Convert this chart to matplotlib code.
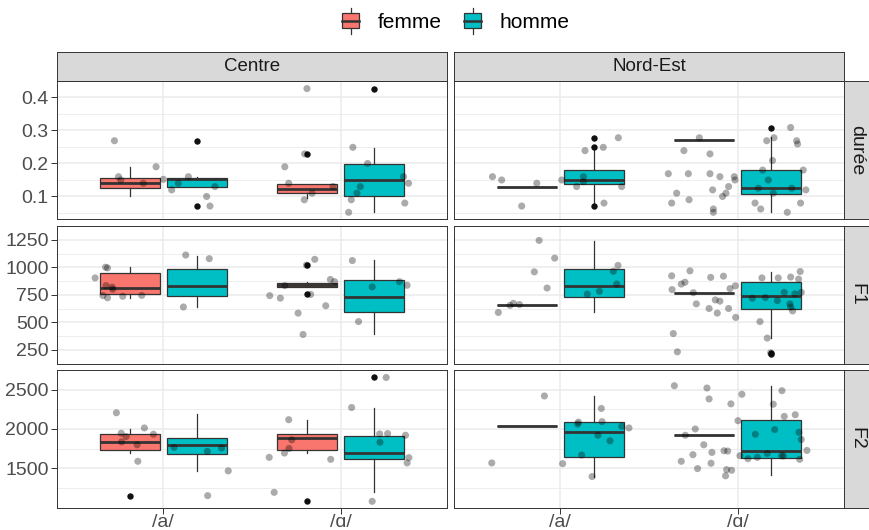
import matplotlib
matplotlib.use("Agg")
import matplotlib.pyplot as plt
from matplotlib.patches import Patch, Rectangle
from matplotlib.lines import Line2D
from matplotlib.legend_handler import HandlerBase

plt.rcParams['font.family'] = ['Liberation Sans', 'DejaVu Sans']

# Données
regions = ["Centre", "Nord-Est"]
measures = ["durée", "F1", "F2"]
vowels = ["/a/", "/ɑ/"]
genders = ["femme", "homme"]

# boîtes : (whislo, q1, med, q3, whishi), ordre :
# Centre /a/ f, Centre /a/ h, Centre /ɑ/ f, Centre /ɑ/ h, NE /a/ f, NE /a/ h, NE /ɑ/ f, NE /ɑ/ h
duree_box = [(0.10, 0.125, 0.14, 0.155, 0.19), (0.13, 0.13, 0.152, 0.155, 0.16),
             (0.095, 0.11, 0.122, 0.137, 0.137), (0.052, 0.10, 0.15, 0.197, 0.247),
             (0.13, 0.13, 0.13, 0.13, 0.13), (0.08, 0.138, 0.15, 0.18, 0.24),
             (0.27, 0.27, 0.27, 0.27, 0.27), (0.052, 0.107, 0.125, 0.18, 0.28)]
duree_fliers = [[], [0.071, 0.269], [0.229], [0.427], [], [0.071, 0.249, 0.278], [], [0.309]]

f1_box = [(722, 755, 814, 950, 1000), (639, 736, 833, 986, 1103),
          (820, 825, 839, 861, 870), (389, 597, 731, 880, 1069),
          (653, 653, 653, 653, 653), (592, 731, 831, 983, 1242),
          (769, 769, 769, 769, 769), (361, 625, 736, 869, 958)]
f1_fliers = [[], [], [753, 1019], [], [], [], [], [222, 212]]

f2_box = [(1700, 1727, 1836, 1933, 2004), (1467, 1677, 1794, 1891, 2193),
          (1694, 1736, 1891, 1937, 2109), (1198, 1618, 1694, 1908, 2265),
          (2034, 2034, 2034, 2034, 2034), (1395, 1639, 1962, 2088, 2416),
          (1920, 1920, 1920, 1920, 1920), (1416, 1635, 1719, 2118, 2542)]
f2_fliers = [[1152], [], [1080], [2655], [], [], [], []]

# points (position sur l'axe discret avec jitter, valeur)
duree_centre_x = [0.724, 0.747, 0.76, 0.887, 0.959, 1.0, 1.047, 1.084, 1.141, 1.244, 1.263, 1.291,
                  1.685, 1.707, 1.795, 1.81, 1.797, 1.839, 1.957, 2.069, 2.152, 2.111, 2.092, 2.06,
                  2.045, 2.355, 2.383, 2.362]
duree_centre_y = [0.269, 0.16, 0.15, 0.14, 0.19, 0.152, 0.12, 0.14, 0.16, 0.10, 0.071, 0.13,
                  0.19, 0.14, 0.09, 0.427, 0.229, 0.11, 0.13, 0.249, 0.20, 0.13, 0.11, 0.09,
                  0.052, 0.16, 0.14, 0.08]
duree_ne_x = [0.617, 0.669, 0.782, 0.867, 1.008, 1.092, 1.13, 1.13, 1.139, 1.242, 1.246, 1.327, 1.346,
              1.609, 1.628, 1.656, 1.697, 1.722, 1.726, 1.784, 1.844, 1.844, 1.859, 1.863, 1.863,
              1.90, 1.915, 1.934, 1.949, 1.981, 1.985, 2.098, 2.13, 2.141, 2.173, 2.197, 2.201,
              2.164, 2.205, 2.28, 2.299, 2.333, 2.338, 2.355, 2.37, 2.385, 2.117, 2.305]
duree_ne_y = [0.16, 0.15, 0.071, 0.14, 0.15, 0.13, 0.16, 0.145, 0.239, 0.249, 0.08, 0.278, 0.13,
              0.169, 0.08, 0.11, 0.239, 0.169, 0.09, 0.278, 0.229, 0.169, 0.12, 0.062, 0.052,
              0.16, 0.10, 0.11, 0.13, 0.16, 0.15, 0.08, 0.062, 0.18, 0.15, 0.209, 0.11,
              0.269, 0.278, 0.052, 0.309, 0.269, 0.259, 0.08, 0.18, 0.12, 0.125, 0.125]

f1_centre_x = [0.615, 0.659, 0.674, 0.685, 0.685, 0.677, 0.711, 0.715, 0.771, 0.878, 1.113, 1.126, 1.259,
               1.60, 1.66, 1.685, 1.76, 1.788, 1.807, 1.831, 1.854, 1.916, 1.942, 1.966, 2.066, 2.101,
               2.178, 2.332, 2.375]
f1_centre_y = [903, 742, 1000, 994, 722, 833, 819, 800, 736, 744, 639, 1111, 1078,
               742, 719, 833, 583, 389, 1019, 753, 1072, 650, 889, 869, 1061, 506,
               822, 869, 836]
f1_ne_x = [0.65, 0.716, 0.735, 0.769, 0.853, 0.88, 0.925, 0.968, 1.152, 1.22, 1.299, 1.318, 1.325,
           1.628, 1.63, 1.637, 1.66, 1.682, 1.703, 1.731, 1.75, 1.767, 1.839, 1.848, 1.874, 1.885,
           1.90, 1.92, 1.949, 1.957, 1.987, 1.989, 2.083, 2.126, 2.137, 2.156, 2.167, 2.186, 2.224,
           2.229, 2.263, 2.295, 2.299, 2.31, 2.323, 2.344, 2.353, 2.359, 2.299]
f1_ne_y = [589, 653, 672, 661, 958, 1244, 811, 1083, 756, 781, 964, 847, 1017,
           922, 797, 397, 231, 847, 864, 967, 769, 667, 625, 908, 703, 583,
           692, 919, 625, 806, 831, 544, 719, 506, 903, 725, 356, 222, 697,
           903, 772, 667, 911, 603, 758, 892, 961, 772, 639]

f2_centre_x = [0.735, 0.762, 0.764, 0.79, 0.852, 0.856, 0.893, 0.944, 1.06, 1.248, 1.25, 1.328, 1.366,
               1.597, 1.625, 1.683, 1.707, 1.709, 1.724, 1.944, 2.062, 2.178, 2.22, 2.222, 2.257,
               2.265, 2.366, 2.375, 2.385]
f2_centre_y = [2206, 1946, 1836, 1904, 1799, 1589, 2013, 1933, 1765, 1715, 1152, 1757, 1467,
               1639, 1194, 1694, 2118, 1752, 1862, 1614, 2273, 1080, 1937, 1832, 2655,
               1941, 1920, 1568, 1635]
f2_ne_x = [0.613, 0.91, 1.013, 1.098, 1.102, 1.12, 1.179, 1.212, 1.231, 1.235, 1.28, 1.346, 1.387,
           1.643, 1.682, 1.705, 1.748, 1.761, 1.774, 1.809, 1.827, 1.839, 1.85, 1.855, 1.923,
           1.938, 1.932, 1.944, 1.962, 1.966, 2.002, 2.013, 2.024, 2.058, 2.10, 2.111, 2.167,
           2.201, 2.209, 2.248, 2.25, 2.258, 2.263, 2.325, 2.346, 2.35, 2.359, 2.391]
f2_ne_y = [1568, 2420, 1559, 2063, 2088, 1668, 1395, 1920, 2261, 2093, 1849, 2034, 2013,
           2550, 1589, 1920, 1673, 2000, 1496, 1799, 2521, 2382, 1564, 1702, 1723,
           1483, 1404, 1719, 2319, 1475, 2105, 1660, 2441, 1622, 1933, 1639, 1689,
           2315, 1992, 1660, 2487, 1656, 2160, 2181, 1958, 1614, 1866, 1727]

duree_ticks = [0.1, 0.2, 0.3, 0.4]
f1_ticks = [250, 500, 750, 1000, 1250]
f2_ticks = [1500, 2000, 2500]

# Couleurs ggplot
FILL = {"femme": "#F8766D", "homme": "#00BFC4"}
DARK = "#333333"
GRID = "#EBEBEB"
STRIP_BG = "#D9D9D9"

rows = [
    (duree_box, duree_fliers, [(duree_centre_x, duree_centre_y), (duree_ne_x, duree_ne_y)], duree_ticks,
     ["0.1", "0.2", "0.3", "0.4"]),
    (f1_box, f1_fliers, [(f1_centre_x, f1_centre_y), (f1_ne_x, f1_ne_y)], f1_ticks,
     [str(t) for t in f1_ticks]),
    (f2_box, f2_fliers, [(f2_centre_x, f2_centre_y), (f2_ne_x, f2_ne_y)], f2_ticks,
     [str(t) for t in f2_ticks]),
]

W, H = 869, 530
fig = plt.figure(figsize=(W / 100, H / 100), dpi=100)


def px_rect(x, y, w, h):
    return [x / W, 1 - (y + h) / H, w / W, h / H]


col_x = [57, 454]
col_w = 390
row_y = [81, 226, 370]
row_h = 137.5
dodge = 0.1875


class BoxKey(HandlerBase):
    def create_artists(self, legend, orig_handle, xdescent, ydescent, width, height, fontsize, trans):
        x0, y0 = -xdescent, -ydescent
        cx = x0 + width / 2
        whisk = Line2D([cx, cx], [y0 - height * 0.1, y0 + height * 1.1], color=DARK, lw=0.9, transform=trans)
        box = Rectangle((x0 + width * 0.1, y0 + height * 0.15), width * 0.8, height * 0.7,
                        facecolor=orig_handle.get_facecolor(), edgecolor=DARK, lw=0.9, transform=trans)
        med = Line2D([x0 + width * 0.1, x0 + width * 0.9], [y0 + height / 2] * 2, color=DARK, lw=1.8,
                     transform=trans)
        return [whisk, box, med]


def style_spines(ax):
    for s in ax.spines.values():
        s.set_color(DARK)
        s.set_linewidth(0.7)


for r, (box, fliers, pts, ticks, tick_labels) in enumerate(rows):
    # limites comme ggplot (expansion de 5 %)
    vals = [v for b in box for v in b] + [v for f in fliers for v in f]
    for px, py in pts:
        vals += list(py)
    lo, hi = min(vals), max(vals)
    pad = (hi - lo) * 0.05
    step = ticks[1] - ticks[0]
    minor = [t - step / 2 for t in ticks] + [ticks[-1] + step / 2]

    for c in range(2):
        ax = fig.add_axes(px_rect(col_x[c], row_y[r], col_w, row_h))
        ax.set_xlim(0.4, 2.6)
        ax.set_ylim(lo - pad, hi + pad)
        ax.set_yticks(ticks, tick_labels)
        ax.set_yticks(minor, minor=True)
        ax.set_xticks([1, 2], vowels)
        ax.grid(True, which='major', color=GRID, lw=1.1)
        ax.grid(True, which='minor', axis='y', color=GRID, lw=0.6)
        ax.set_axisbelow(True)
        ax.tick_params(which='major', length=4, width=0.7, color=DARK, labelsize=14,
                       labelcolor='#4D4D4D', pad=2)
        ax.tick_params(axis='x', pad=1)
        ax.tick_params(which='minor', length=0)
        if c == 1:
            ax.tick_params(axis='y', length=0, labelleft=False)
        if r < 2:
            ax.tick_params(axis='x', length=0, labelbottom=False)
        style_spines(ax)

        stats = []
        pos = []
        for k in range(4):
            i = c * 4 + k
            wl, q1, med, q3, wh = box[i]
            stats.append(dict(whislo=wl, q1=q1, med=med, q3=q3, whishi=wh, fliers=fliers[i]))
            pos.append(1 + k // 2 + (-dodge if k % 2 == 0 else dodge))
        bp = ax.bxp(stats, positions=pos, widths=0.3375, patch_artist=True, showcaps=False,
                    boxprops=dict(edgecolor=DARK, linewidth=0.9),
                    medianprops=dict(color=DARK, linewidth=2.0, solid_capstyle='butt'),
                    whiskerprops=dict(color=DARK, linewidth=0.9),
                    flierprops=dict(marker='o', markerfacecolor='#111111', markeredgecolor='none',
                                    markersize=4.6),
                    manage_ticks=False)
        for k, patch in enumerate(bp['boxes']):
            patch.set_facecolor(FILL[genders[k % 2]])

        px, py = pts[c]
        ax.scatter(px, py, s=26, color='black', alpha=0.33, edgecolors='none', zorder=5)

        # bandeaux
        if r == 0:
            sax = fig.add_axes(px_rect(col_x[c], 52, col_w, 29))
            sax.set_facecolor(STRIP_BG)
            sax.set_xticks([])
            sax.set_yticks([])
            style_spines(sax)
            sax.text(0.5, 0.5, regions[c], ha='center', va='center', fontsize=13.5, color='#1A1A1A',
                     transform=sax.transAxes)
        if c == 1:
            sax = fig.add_axes(px_rect(844, row_y[r], 25, row_h))
            sax.set_facecolor(STRIP_BG)
            sax.set_xticks([])
            sax.set_yticks([])
            style_spines(sax)
            sax.text(0.5, 0.5, measures[r], ha='center', va='center', fontsize=14, color='#1A1A1A',
                     rotation=270, transform=sax.transAxes)

handles = [Patch(facecolor=FILL[g]) for g in genders]
fig.legend(handles, genders, handler_map={Patch: BoxKey()}, loc='center',
           bbox_to_anchor=(455 / W, 1 - 21 / H), ncol=2, frameon=False, fontsize=15,
           handlelength=1.0, handleheight=1.2, handletextpad=0.8, columnspacing=1.0)

fig.savefig("out.png", dpi=100)
